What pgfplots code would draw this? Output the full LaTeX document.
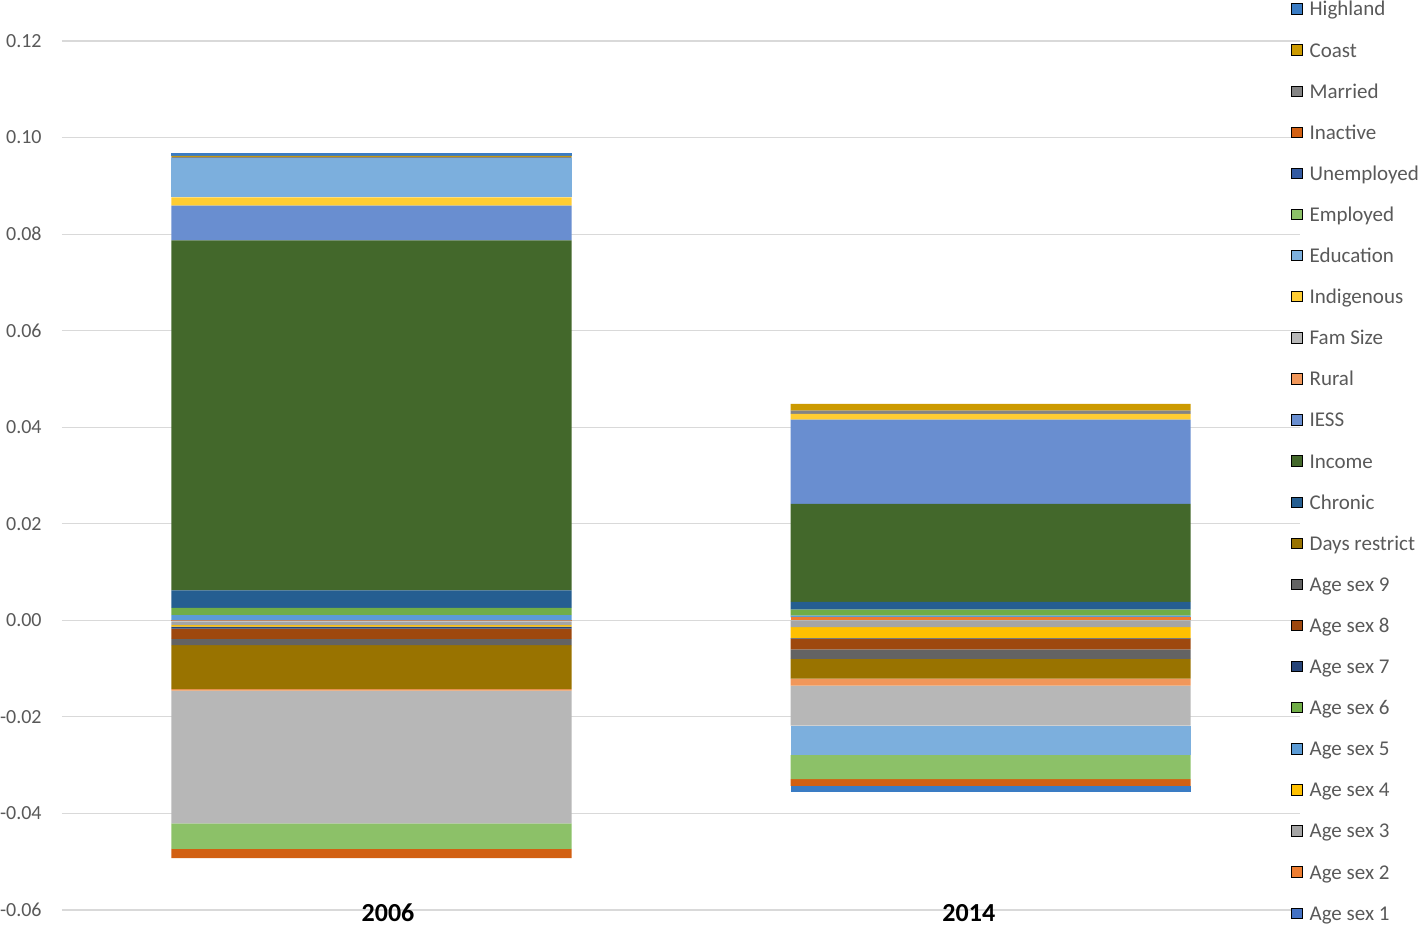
\documentclass[border=0pt]{standalone}
\usepackage{pgfplots}
\pgfplotsset{compat=1.18}
\usepackage{pgfplotstable}
\usepackage{fontspec}
\setmainfont{Carlito}

\definecolor{cAS1}{HTML}{4472C4}
\definecolor{cAS2}{HTML}{ED7D31}
\definecolor{cAS3}{HTML}{A5A5A5}
\definecolor{cAS4}{HTML}{FFC000}
\definecolor{cAS5}{HTML}{5B9BD5}
\definecolor{cAS6}{HTML}{70AD47}
\definecolor{cAS7}{HTML}{264478}
\definecolor{cAS8}{HTML}{9E480E}
\definecolor{cAS9}{HTML}{636363}
\definecolor{cDays}{HTML}{997300}
\definecolor{cChr}{HTML}{255E91}
\definecolor{cInc}{HTML}{43682B}
\definecolor{cIESS}{HTML}{698ED0}
\definecolor{cRur}{HTML}{F1975A}
\definecolor{cFam}{HTML}{B7B7B7}
\definecolor{cInd}{HTML}{FFCD33}
\definecolor{cEdu}{HTML}{7CAFDD}
\definecolor{cEmp}{HTML}{8CC168}
\definecolor{cUne}{HTML}{335AA1}
\definecolor{cIna}{HTML}{D26012}
\definecolor{cMar}{HTML}{848484}
\definecolor{cCoa}{HTML}{CC9A00}
\definecolor{cHig}{HTML}{3A7CC4}
\definecolor{gridc}{HTML}{D9D9D9}
\definecolor{txtc}{HTML}{595959}

% series in stacking order: S1..S9 = Age sex 1..9, S10 Days restrict, S11 Chronic,
% S12 Income, S13 IESS, S14 Rural, S15 Fam Size, S16 Indigenous, S17 Education,
% S18 Employed, S19 Unemployed, S20 Inactive, S21 Married, S22 Coast, S23 Highland
\pgfplotstableread{
x S1 S2 S3 S4 S5 S6 S7 S8 S9 S10 S11 S12 S13 S14 S15 S16 S17 S18 S19 S20 S21 S22 S23
0 0 -0.0002 -0.0008 -0.0003 0.0011 0.0015 -0.0004 -0.00215 -0.0013 -0.0091 0.0036 0.0725 0.0072 -0.0003 -0.0275 0.0017 0.0082 -0.0053 0 -0.0019 0.0002 0.0002 0.0006
1 0 0.0006 -0.0014 -0.0023 0.0004 0.0012 -0.0001 -0.0022 -0.0020 -0.0041 0.0016 0.0203 0.01745 -0.0014 -0.0083 0.0012 -0.0061 -0.0050 0 -0.0014 0.0007 0.0014 -0.0013
}\data

\pgfplotscreateplotcyclelist{excel}{
{fill=cAS1,draw=none},{fill=cAS2,draw=none},{fill=cAS3,draw=none},{fill=cAS4,draw=none},
{fill=cAS5,draw=none},{fill=cAS6,draw=none},{fill=cAS7,draw=none},{fill=cAS8,draw=none},
{fill=cAS9,draw=none},{fill=cDays,draw=none},{fill=cChr,draw=none},{fill=cInc,draw=none},
{fill=cIESS,draw=none},{fill=cRur,draw=none},{fill=cFam,draw=none},{fill=cInd,draw=none},
{fill=cEdu,draw=none},{fill=cEmp,draw=none},{fill=cUne,draw=none},{fill=cIna,draw=none},
{fill=cMar,draw=none},{fill=cCoa,draw=none},{fill=cHig,draw=none}}

\pgfplotsset{base/.style={
  scale only axis, width=619pt, height=434.5pt, at={(0,0)}, anchor=south west,
  xmin=-0.5, xmax=1.5, ymin=-0.06, ymax=0.12,
  ybar stacked, bar width=200pt,
  cycle list name=excel,
  axis line style={draw=none}, major tick length=0pt,
  clip=false,
}}

\newcommand\allplots{%
\addplot table[x=x,y=S1]{\data};
\addplot table[x=x,y=S2]{\data};
\addplot table[x=x,y=S3]{\data};
\addplot table[x=x,y=S4]{\data};
\addplot table[x=x,y=S5]{\data};
\addplot table[x=x,y=S6]{\data};
\addplot table[x=x,y=S7]{\data};
\addplot table[x=x,y=S8]{\data};
\addplot table[x=x,y=S9]{\data};
\addplot table[x=x,y=S10]{\data};
\addplot table[x=x,y=S11]{\data};
\addplot table[x=x,y=S12]{\data};
\addplot table[x=x,y=S13]{\data};
\addplot table[x=x,y=S14]{\data};
\addplot table[x=x,y=S15]{\data};
\addplot table[x=x,y=S16]{\data};
\addplot table[x=x,y=S17]{\data};
\addplot table[x=x,y=S18]{\data};
\addplot table[x=x,y=S19]{\data};
\addplot table[x=x,y=S20]{\data};
\addplot table[x=x,y=S21]{\data};
\addplot table[x=x,y=S22]{\data};
\addplot table[x=x,y=S23]{\data};
}

\begin{document}
\begin{tikzpicture}
% negative parts (with grid and tick labels)
\begin{axis}[base,
  ymajorgrids, grid style={draw=gridc, line width=0.6pt},
  ytick={-0.06,-0.04,-0.02,0,0.02,0.04,0.06,0.08,0.10,0.12},
  yticklabels={-0.06,-0.04,-0.02,0.00,0.02,0.04,0.06,0.08,0.10,0.12},
  yticklabel style={font=\fontsize{10}{12}\selectfont, text=txtc, inner sep=0pt, anchor=east, xshift=-10pt},
  xtick={0.0267,0.965}, xticklabels={2006,2014},
  xticklabel style={font=\fontsize{13}{15}\selectfont\bfseries, text=black, inner sep=0pt, anchor=center, yshift=-1.5pt},
  y filter/.expression={y<0 ? y : 0},
]
\allplots
\end{axis}
% positive parts and legend
\begin{axis}[base, xtick=\empty, ytick=\empty,
  y filter/.expression={y>0 ? y : 0},
  legend image code/.code={\draw[#1,/tikz/.cd] (0pt,-1.6pt) rectangle (5.2pt,3.6pt);},
  reverse legend,
  legend cell align=left,
  legend style={draw=none, fill=none, at={(0.98788,1.04995)}, anchor=north west,
    font=\fontsize{10.5}{12}\selectfont, text=txtc,
    row sep=11.55pt, column sep=3.5pt,
    nodes={inner sep=0pt, text height=7pt, text depth=2pt}},
  legend entries={Age sex 1,Age sex 2,Age sex 3,Age sex 4,Age sex 5,Age sex 6,Age sex 7,Age sex 8,Age sex 9,Days restrict,Chronic,Income,IESS,Rural,Fam Size,Indigenous,Education,Employed,Unemployed,Inactive,Married,Coast,Highland},
]
\allplots
\end{axis}
\pgfresetboundingbox
\path (-31pt,-8pt) rectangle (678pt,455pt);
\end{tikzpicture}
\end{document}
